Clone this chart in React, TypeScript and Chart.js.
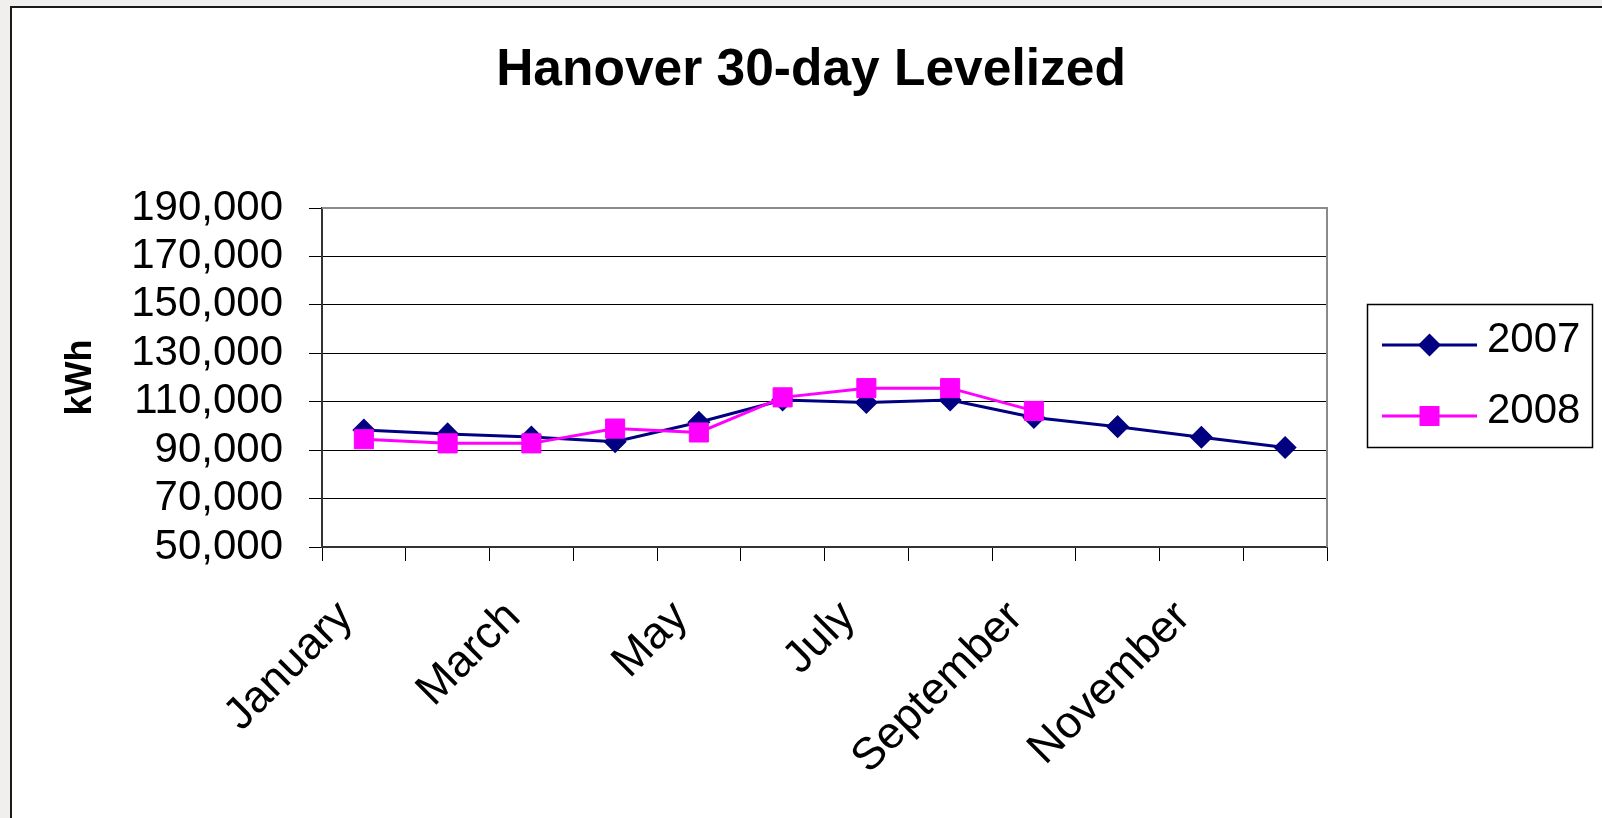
import React, { useEffect, useRef } from 'react';
import { Chart, registerables } from 'chart.js';

Chart.register(...registerables);

const months = [
  'January', 'February', 'March', 'April', 'May', 'June',
  'July', 'August', 'September', 'October', 'November', 'December',
];
const xTickLabels = [
  'January', '', 'March', '', 'May', '', 'July', '', 'September', '', 'November', '',
];
const series2007 = [98300, 96700, 95400, 93500, 101500, 110700, 109700, 110700, 103500, 99700, 95300, 91100];
const series2008 = [94500, 92800, 92800, 98900, 97300, 111800, 115600, 115600, 106200];
const seriesNames = ['2007', '2008'];
const yMin = 50000;
const yMax = 190000;
const yStep = 20000;

const NAVY = '#000080';
const MAGENTA = '#FF00FF';
const FONT = 'Liberation Sans, Arial, sans-serif';

const frameAndLegend = {
  id: 'frameAndLegend',
  beforeDatasetsDraw(chart: any) {
    const { ctx, chartArea } = chart;
    ctx.save();
    ctx.strokeStyle = '#8a8a8a';
    ctx.lineWidth = 2;
    ctx.beginPath();
    ctx.moveTo(chartArea.left, chartArea.top);
    ctx.lineTo(chartArea.right, chartArea.top);
    ctx.lineTo(chartArea.right, chartArea.bottom);
    ctx.stroke();
    ctx.restore();
  },
  afterDraw(chart: any) {
    const { ctx, chartArea } = chart;
    const left = chartArea.right + 40;
    const top = 304;
    const w = 225;
    const h = 143;
    ctx.save();
    ctx.fillStyle = '#ffffff';
    ctx.fillRect(left, top, w, h);
    ctx.strokeStyle = '#000';
    ctx.lineWidth = 1.5;
    ctx.strokeRect(left + 0.5, top + 0.5, w, h);
    chart.data.datasets.forEach((ds: any, i: number) => {
      const y = 345 + i * 71;
      const x1 = left + 15;
      const x2 = left + 110;
      const cx = (x1 + x2) / 2;
      ctx.strokeStyle = ds.borderColor;
      ctx.lineWidth = 3;
      ctx.beginPath();
      ctx.moveTo(x1, y);
      ctx.lineTo(x2, y);
      ctx.stroke();
      ctx.fillStyle = ds.backgroundColor;
      ctx.beginPath();
      if (ds.pointStyle === 'rectRot') {
        const r = 11.5;
        ctx.moveTo(cx, y - r);
        ctx.lineTo(cx + r, y);
        ctx.lineTo(cx, y + r);
        ctx.lineTo(cx - r, y);
        ctx.closePath();
      } else {
        const s = 10;
        ctx.rect(cx - s, y - s, 2 * s, 2 * s);
      }
      ctx.fill();
      ctx.fillStyle = '#000';
      ctx.font = `42px ${FONT}`;
      ctx.textAlign = 'left';
      ctx.textBaseline = 'middle';
      ctx.fillText(ds.label, left + 120, y - 5);
    });
    ctx.restore();
  },
};

export default function App() {
  const canvasRef = useRef<HTMLCanvasElement | null>(null);

  useEffect(() => {
    if (!canvasRef.current) return;
    const chart = new Chart(canvasRef.current, {
      type: 'line',
      data: {
        labels: months,
        datasets: [
          {
            label: seriesNames[0],
            data: series2007,
            borderColor: NAVY,
            backgroundColor: NAVY,
            borderWidth: 3,
            pointStyle: 'rectRot',
            pointRadius: 10.5,
            pointBorderWidth: 1.5,
            pointBackgroundColor: NAVY,
            pointBorderColor: NAVY,
            tension: 0,
            order: 1,
          },
          {
            label: seriesNames[1],
            data: series2008,
            borderColor: MAGENTA,
            backgroundColor: MAGENTA,
            borderWidth: 3,
            pointStyle: 'rect',
            pointRadius: 13.5,
            pointBorderWidth: 1,
            pointBackgroundColor: MAGENTA,
            pointBorderColor: MAGENTA,
            tension: 0,
            order: 0,
          },
        ],
      },
      options: {
        responsive: false,
        animation: false,
        devicePixelRatio: 1,
        layout: { padding: { left: 20, top: 0, right: 0, bottom: 0 } },
        font: { family: FONT },
        plugins: {
          legend: { display: false },
          tooltip: { enabled: false },
          title: {
            display: true,
            text: 'Hanover 30-day Levelized',
            color: '#000',
            font: { family: FONT, size: 51.5, weight: 'bold', lineHeight: 1.2 },
            padding: { top: 39.6, bottom: 106.6 },
          },
        },
        scales: {
          x: {
            type: 'category',
            offset: true,
            afterFit: (scale: any) => { scale.height = 271; },
            grid: {
              display: true,
              offset: true,
              drawOnChartArea: false,
              drawTicks: true,
              tickLength: 14,
              color: '#000',
              lineWidth: 1,
            },
            border: { display: true, color: '#333', width: 2 },
            ticks: {
              autoSkip: false,
              maxRotation: 45,
              minRotation: 45,
              padding: 30,
              labelOffset: -18,
              color: '#000',
              font: { family: FONT, size: 45 },
              callback: (_v: any, i: number) => xTickLabels[i],
            },
          },
          y: {
            min: yMin,
            max: yMax,
            afterFit: (scale: any) => { scale.width = 302; },
            grid: {
              color: '#000',
              lineWidth: 1,
              drawTicks: true,
              tickLength: 13,
            },
            border: { display: true, color: '#333', width: 2 },
            ticks: {
              stepSize: yStep,
              autoSkip: false,
              padding: 26,
              color: '#000',
              font: { family: FONT, size: 42 },
              callback: (v: any) => Number(v).toLocaleString('en-US'),
            },
            title: {
              display: true,
              text: 'kWh',
              color: '#000',
              font: { family: FONT, size: 36, weight: 'bold', lineHeight: 1.2 },
              padding: { top: 39.4, bottom: 0 },
            },
          },
          legendSpace: {
            type: 'linear',
            position: 'right',
            display: true,
            afterFit: (scale: any) => { scale.width = 275; },
            grid: { display: false, drawTicks: false },
            border: { display: false },
            ticks: { display: false },
          },
        },
      },
      plugins: [frameAndLegend],
    });
    return () => chart.destroy();
  }, []);

  return (
    <div style={{ position: 'fixed', inset: 0, background: '#f0efed', overflow: 'hidden' }}>
      <div
        style={{
          position: 'absolute',
          left: 10,
          top: 6,
          width: 1700,
          height: 900,
          background: '#ffffff',
          borderLeft: '2px solid #1a1a1a',
          borderTop: '2px solid #1a1a1a',
        }}
      />
      <canvas
        ref={canvasRef}
        width={1602}
        height={818}
        style={{ position: 'absolute', left: 0, top: 0, width: 1602, height: 818 }}
      />
    </div>
  );
}
